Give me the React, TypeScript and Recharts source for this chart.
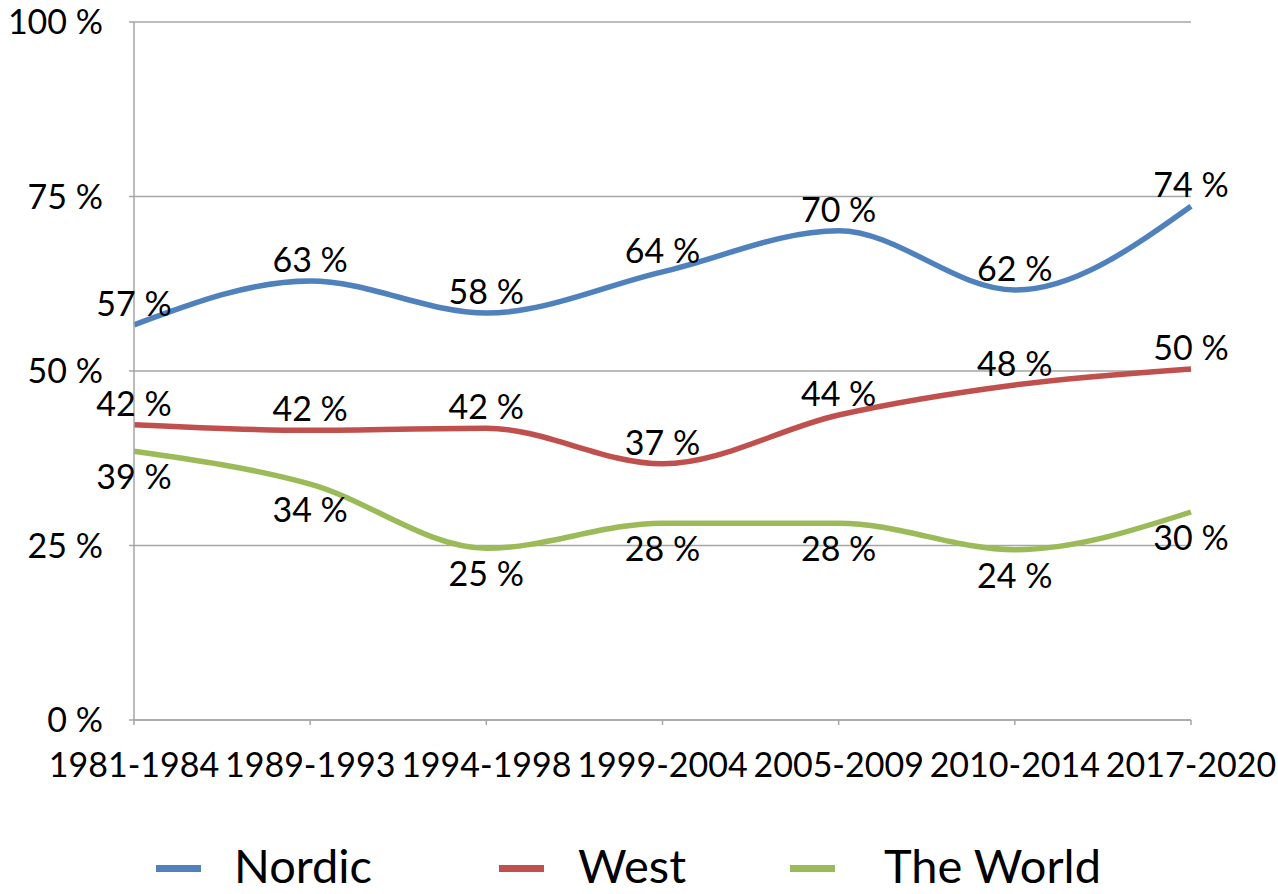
import { LineChart, Line, XAxis, YAxis, CartesianGrid, LabelList, Legend } from "recharts";

const periods = ["1981-1984", "1989-1993", "1994-1998", "1999-2004", "2005-2009", "2010-2014", "2017-2020"];
const nordic = [56.6, 62.9, 58.3, 64.2, 70.1, 61.6, 73.6];
const west = [42.3, 41.5, 41.8, 36.7, 43.7, 48, 50.3];
const world = [38.5, 33.8, 24.6, 28.2, 28.2, 24.4, 29.8];
const yTicks = [0, 25, 50, 75, 100];

const series = [
  { key: "nordic", name: "Nordic", color: "#4F81BD", place: "above" },
  { key: "west", name: "West", color: "#C0504D", place: "above" },
  { key: "world", name: "The World", color: "#9BBB59", place: "below" },
];

const data = periods.map((p, i) => ({
  period: p,
  nordic: nordic[i],
  west: west[i],
  world: world[i],
}));

const FONT = "Lato, 'DejaVu Sans', sans-serif";

const makeLabel = (place: string) => (props: any) => {
  const { x, y, value } = props;
  const dy = place === "above" ? -9 : 38;
  return (
    <text x={x} y={y + dy} textAnchor="middle" fontFamily={FONT} fontSize={34} fill="#000">
      {Math.round(value)} %
    </text>
  );
};

function LegendBox() {
  const items = [
    { s: series[0], lineX: 156, textX: 234 },
    { s: series[1], lineX: 499, textX: 578 },
    { s: series[2], lineX: 790, textX: 884 },
  ];
  return (
    <svg width={1278} height={70} style={{ display: "block" }}>
      {items.map((it) => (
        <g key={it.s.key}>
          <rect x={it.lineX} y={41} width={45} height={7} fill={it.s.color} />
          <text x={it.textX} y={59} fontFamily={FONT} fontSize={47} fill="#000">
            {it.s.name}
          </text>
        </g>
      ))}
    </svg>
  );
}

export default function App() {
  return (
    <div style={{ position: "absolute", left: 0, top: 0, background: "#fff" }}>
      <LineChart
        width={1278}
        height={894}
        data={data}
        margin={{ top: 22, right: 87, left: 0, bottom: 0 }}
      >
        <CartesianGrid vertical={false} stroke="#a6a6a6" strokeWidth={1.5} />
        <XAxis
          dataKey="period"
          stroke="#a6a6a6"
          strokeWidth={1.5}
          tickSize={5}
          tickMargin={28}
          height={104}
          interval={0}
          tick={{ fill: "#000", fontSize: 34, fontFamily: FONT }}
          padding={{ left: 0, right: 0 }}
        />
        <YAxis
          domain={[0, 100]}
          ticks={yTicks}
          width={134}
          stroke="#a6a6a6"
          strokeWidth={1.5}
          tickSize={5}
          tickMargin={26}
          tickFormatter={(v: number) => `${v} %`}
          tick={{ fill: "#000", fontSize: 34, fontFamily: FONT }}
        />
        <Legend verticalAlign="bottom" height={70} content={() => <LegendBox />} wrapperStyle={{ left: 0, bottom: 0 }} />
        {series.map((s) => (
          <Line
            key={s.key}
            type="monotone"
            dataKey={s.key}
            name={s.name}
            stroke={s.color}
            strokeWidth={5.5}
            dot={false}
            isAnimationActive={false}
          >
            <LabelList dataKey={s.key} content={makeLabel(s.place)} />
          </Line>
        ))}
      </LineChart>
    </div>
  );
}
